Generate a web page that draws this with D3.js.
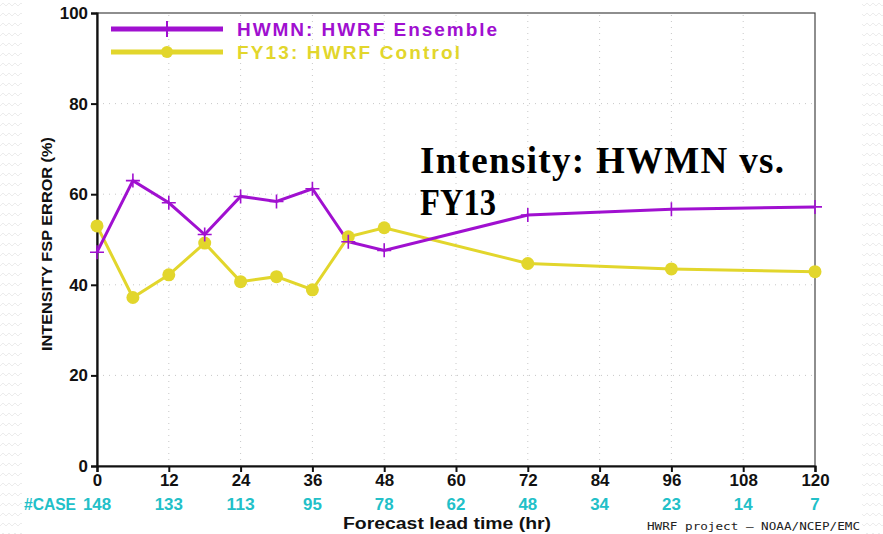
<!DOCTYPE html>
<html>
<head>
<meta charset="utf-8">
<script src="https://cdn.jsdelivr.net/npm/d3@7"></script>
<style>
  html, body { margin: 0; padding: 0; background: #fff; }
  svg { display: block; }
</style>
</head>
<body>
<div id="chart"></div>
<script>
// ── Data ──
const hours = [0, 6, 12, 18, 24, 30, 36, 42, 48, 72, 96, 120];
const hwmn = [47.2, 63.0, 58.1, 51.1, 59.5, 58.4, 61.2, 49.5, 47.6, 55.4, 56.7, 57.2];
const fy13 = [53.0, 37.2, 42.2, 49.2, 40.7, 41.8, 38.9, 50.6, 52.6, 44.7, 43.5, 42.9];
const xTicks = [0, 12, 24, 36, 48, 60, 72, 84, 96, 108, 120];
const caseCounts = [148, 133, 113, 95, 78, 62, 48, 34, 23, 14, 7];
const yTicks = [0, 20, 40, 60, 80, 100];
const seriesNames = ['HWMN: HWRF Ensemble', 'FY13: HWRF Control'];

const W = 883, H = 534;
const M = { left: 97, right: 68, top: 13, bottom: 68 };

const COL = {
  hwmn: '#a010d0',
  fy13: '#e2d62c',
  cases: '#22c0c8',
  grid: '#c8c8c8',
  axis: '#111',
  bgPattern: '#ececec',
};

const svg = d3.select('#chart').append('svg')
  .attr('width', W).attr('height', H)
  .attr('viewBox', `0 0 ${W} ${H}`);

// slide background: faint zigzag outside the chart image
const defs = svg.append('defs');
const pat = defs.append('pattern').attr('id', 'zig')
  .attr('patternUnits', 'userSpaceOnUse').attr('width', 12).attr('height', 10);
pat.append('path').attr('d', 'M0,6 L3,3 L6,6 L9,3 L12,6')
  .attr('fill', 'none').attr('stroke', COL.bgPattern).attr('stroke-width', 1);
svg.append('rect').attr('width', W).attr('height', H).attr('fill', 'url(#zig)');
svg.append('rect').attr('x', 22).attr('y', 0).attr('width', 840).attr('height', H).attr('fill', '#fff');

const x = d3.scaleLinear().domain([0, 120]).range([M.left, W - M.right]);
const y = d3.scaleLinear().domain([0, 100]).range([H - M.bottom, M.top]);

const FONT = "'Liberation Sans', Arial, sans-serif";

// grid (dotted)
const grid = svg.append('g');
grid.selectAll('.gx').data(xTicks.slice(1, -1)).enter().append('line')
  .attr('x1', d => x(d)).attr('x2', d => x(d))
  .attr('y1', y(0)).attr('y2', y(100))
  .attr('stroke', COL.grid).attr('stroke-width', 1).attr('stroke-dasharray', '1,5');
grid.selectAll('.gy').data(yTicks.slice(1, -1)).enter().append('line')
  .attr('x1', x(0)).attr('x2', x(120))
  .attr('y1', d => y(d)).attr('y2', d => y(d))
  .attr('stroke', COL.grid).attr('stroke-width', 1).attr('stroke-dasharray', '1,5');

// frame
svg.append('rect')
  .attr('x', x(0)).attr('y', y(100))
  .attr('width', x(120) - x(0)).attr('height', y(0) - y(100))
  .attr('fill', 'none').attr('stroke', '#444').attr('stroke-width', 1.2);

// axes
const yAxis = svg.append('g')
  .attr('transform', `translate(${x(0)},0)`)
  .call(d3.axisLeft(y).tickValues(yTicks).tickSize(6).tickPadding(3));
const xAxis = svg.append('g')
  .attr('transform', `translate(0,${y(0)})`)
  .call(d3.axisBottom(x).tickValues(xTicks).tickSize(6).tickPadding(2));

// condensed bold tick labels, like the GrADS font
[yAxis, xAxis].forEach(a => {
  a.select('.domain').attr('stroke', COL.axis).attr('stroke-width', 2.2);
  a.selectAll('.tick line').attr('stroke', COL.axis).attr('stroke-width', 2);
  a.selectAll('.tick text')
    .attr('fill', '#111')
    .attr('font-family', FONT)
    .attr('font-weight', 'bold')
    .attr('font-size', 17)
    .attr('textLength', d => String(d).length * 9.4)
    .attr('lengthAdjust', 'spacingAndGlyphs');
});

// case counts
svg.append('text')
  .attr('x', 24).attr('y', 510)
  .attr('fill', COL.cases).attr('font-family', FONT).attr('font-weight', 'bold')
  .attr('font-size', 16).attr('textLength', 52).attr('lengthAdjust', 'spacingAndGlyphs')
  .text('#CASE');
svg.append('g').selectAll('text').data(caseCounts).enter().append('text')
  .attr('x', (d, i) => x(xTicks[i]))
  .attr('y', 510)
  .attr('text-anchor', 'middle')
  .attr('fill', COL.cases).attr('font-family', FONT).attr('font-weight', 'bold')
  .attr('font-size', 17)
  .attr('textLength', d => String(d).length * 9.4).attr('lengthAdjust', 'spacingAndGlyphs')
  .text(d => d);

// axis titles
svg.append('text')
  .attr('x', 447).attr('y', 529)
  .attr('text-anchor', 'middle')
  .attr('fill', '#111').attr('font-family', FONT).attr('font-weight', 'bold')
  .attr('font-size', 16).attr('textLength', 208).attr('lengthAdjust', 'spacingAndGlyphs')
  .text('Forecast lead time (hr)');
svg.append('text')
  .attr('transform', `translate(52,${y(49)}) rotate(-90)`)
  .attr('text-anchor', 'middle')
  .attr('fill', '#111').attr('font-family', FONT).attr('font-weight', 'bold')
  .attr('font-size', 14).attr('textLength', 214).attr('lengthAdjust', 'spacingAndGlyphs')
  .text('INTENSITY FSP ERROR (%)');
svg.append('text')
  .attr('x', 647).attr('y', 530)
  .attr('fill', '#222').attr('font-family', "'DejaVu Sans Mono', monospace")
  .attr('font-size', 10.5).attr('textLength', 213).attr('lengthAdjust', 'spacingAndGlyphs')
  .text('HWRF project – NOAA/NCEP/EMC');

// series lines
const line = d3.line().x((d, i) => x(hours[i])).y(d => y(d));
const plot = svg.append('g');
plot.append('path').datum(fy13).attr('d', line)
  .attr('fill', 'none').attr('stroke', COL.fy13).attr('stroke-width', 3);
plot.append('path').datum(hwmn).attr('d', line)
  .attr('fill', 'none').attr('stroke', COL.hwmn).attr('stroke-width', 3);

// markers
plot.selectAll('.dot').data(fy13).enter().append('circle')
  .attr('cx', (d, i) => x(hours[i])).attr('cy', d => y(d))
  .attr('r', 6.5).attr('fill', COL.fy13);
plot.selectAll('.plus').data(hwmn).enter().append('path')
  .attr('d', (d, i) => {
    const cx = x(hours[i]), cy = y(d), s = 7;
    return `M${cx - s},${cy}H${cx + s}M${cx},${cy - s}V${cy + s}`;
  })
  .attr('stroke', COL.hwmn).attr('stroke-width', 1.6).attr('fill', 'none');

// legend
const legend = svg.append('g');
const legendRows = [
  { name: seriesNames[0], color: COL.hwmn, y: 29, mark: 'plus', len: 260 },
  { name: seriesNames[1], color: COL.fy13, y: 52, mark: 'dot', len: 223 },
];
legendRows.forEach(r => {
  legend.append('line').attr('x1', 111).attr('x2', 223).attr('y1', r.y).attr('y2', r.y)
    .attr('stroke', r.color).attr('stroke-width', 5);
  if (r.mark === 'plus') {
    legend.append('path').attr('d', `M159,${r.y}H175M167,${r.y - 8}V${r.y + 8}`)
      .attr('stroke', r.color).attr('stroke-width', 2);
  } else {
    legend.append('circle').attr('cx', 167).attr('cy', r.y).attr('r', 6).attr('fill', r.color);
  }
  legend.append('text').attr('x', 237).attr('y', r.y + 7)
    .attr('fill', r.color).attr('font-family', FONT).attr('font-weight', 'bold')
    .attr('font-size', 19)
    .attr('textLength', r.len).attr('lengthAdjust', 'spacing')
    .text(r.name);
});

// slide title overlay
const title = svg.append('text')
  .attr('font-family', "'Liberation Serif', 'DejaVu Serif', serif")
  .attr('font-weight', 'bold').attr('font-size', 37).attr('fill', '#000');
title.append('tspan').attr('x', 420).attr('y', 173)
  .attr('textLength', 364).attr('lengthAdjust', 'spacing').text('Intensity: HWMN vs.');
title.append('tspan').attr('x', 420).attr('y', 215)
  .attr('textLength', 76).attr('lengthAdjust', 'spacingAndGlyphs').text('FY13');
</script>
</body>
</html>
